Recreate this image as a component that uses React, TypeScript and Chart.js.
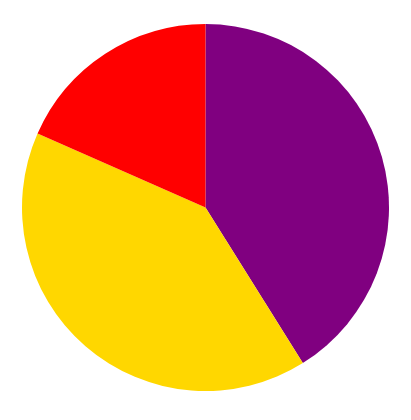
import React, { useEffect, useRef } from 'react';
import Chart from 'chart.js/auto';

const labels = ['Purple', 'Gold', 'Red'];
const values = [41.1, 40.5, 18.4];
const colors = ['#800080', '#ffd700', '#ff0000'];

const App: React.FC = () => {
    const chartRef = useRef<HTMLCanvasElement>(null);

    useEffect(() => {
        if (!chartRef.current) return;
        const ctx = chartRef.current.getContext('2d');
        if (!ctx) return;
        const chart = new Chart(ctx, {
            type: 'pie',
            data: {
                labels: labels,
                datasets: [{
                    data: values,
                    backgroundColor: colors,
                    borderWidth: 0,
                }],
            },
            options: {
                animation: false,
                responsive: true,
                maintainAspectRatio: false,
                layout: { padding: 14 },
                plugins: {
                    legend: { display: false },
                    tooltip: { enabled: false },
                },
            },
        });
        return () => {
            chart.destroy();
        };
    }, []);

    return (
        <div style={{ width: 395, height: 399, position: 'relative' }}>
            <canvas ref={chartRef}></canvas>
        </div>
    );
};

export default App;
